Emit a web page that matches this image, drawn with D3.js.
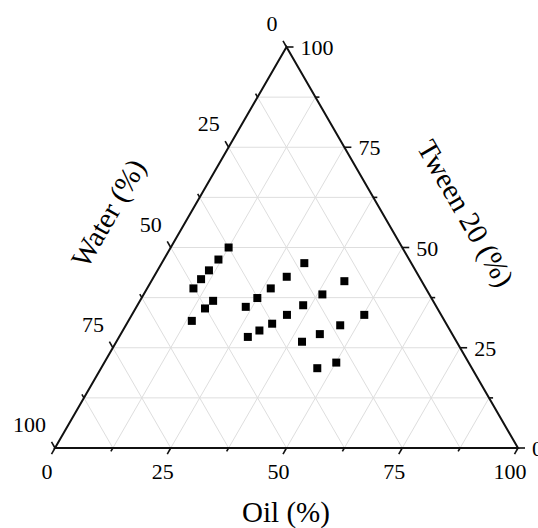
<!DOCTYPE html>
<html>
<head>
<meta charset="utf-8">
<script src="https://cdn.jsdelivr.net/npm/d3@7"></script>
<style>
  html, body { margin: 0; padding: 0; background: #fff; }
  svg { display: block; }
  text { font-family: "Liberation Serif", "Times New Roman", serif; fill: #000; }
</style>
</head>
<body>
<svg id="chart" width="538" height="528"></svg>
<script>
// ---- Data (percentages) ----
const tween = [50.0, 47.0, 44.3, 42.1, 39.8, 36.7, 34.8, 31.7,
               46.1, 42.7, 39.8, 37.4, 35.2,
               41.6, 38.3, 35.6, 33.2, 31.0, 29.3, 27.7,
               33.2, 30.6, 28.4, 26.5,
               21.3, 19.9];
const oil   = [12.5, 11.8, 11.1, 10.5, 10.0, 15.8, 15.0, 13.7,
               30.8, 28.7, 26.7, 25.0, 23.6,
               41.7, 38.6, 35.8, 33.5, 31.4, 29.5, 27.8,
               50.2, 46.3, 43.0, 40.1,
               50.1, 46.7];
const water = [37.5, 41.2, 44.6, 47.4, 50.2, 47.5, 50.2, 54.6,
               23.1, 28.6, 33.5, 37.6, 41.2,
               16.7, 23.1, 28.6, 33.3, 37.6, 41.2, 44.5,
               16.6, 23.1, 28.6, 33.4,
               28.6, 33.4];
const majorTicks = [0, 25, 50, 75, 100];
const minorTicks = [12.5, 37.5, 62.5, 87.5];
const gridValues = [12.5, 25, 37.5, 50, 62.5, 75, 87.5];
const axisTitles = { oil: "Oil (%)", water: "Water (%)", tween: "Tween 20 (%)" };

// ---- Scales / projection ----
const svg = d3.select("#chart");
const xS = d3.scaleLinear().domain([0, 100]).range([55, 518]);
const yS = d3.scaleLinear().domain([0, 100]).range([448, 47]);
// water vertex bottom-left, oil vertex bottom-right, tween vertex top
function proj(w, o, t) { return [xS(o + t / 2), yS(t)]; }

const cos60 = 0.5, sin60 = Math.sqrt(3) / 2;

// ---- Grid ----
const grid = svg.append("g").attr("stroke", "#dedede").attr("stroke-width", 1).attr("fill", "none");
gridValues.forEach(v => {
  let a = proj(100 - v, 0, v), b = proj(0, 100 - v, v);
  grid.append("line").attr("x1", a[0]).attr("y1", a[1]).attr("x2", b[0]).attr("y2", b[1]);
  a = proj(100 - v, v, 0); b = proj(0, v, 100 - v);
  grid.append("line").attr("x1", a[0]).attr("y1", a[1]).attr("x2", b[0]).attr("y2", b[1]);
  a = proj(v, 100 - v, 0); b = proj(v, 0, 100 - v);
  grid.append("line").attr("x1", a[0]).attr("y1", a[1]).attr("x2", b[0]).attr("y2", b[1]);
});

// ---- Triangle ----
const A = proj(100, 0, 0), B = proj(0, 100, 0), C = proj(0, 0, 100);
svg.append("path")
  .attr("d", d3.line()([A, B, C]) + "Z")
  .attr("fill", "none").attr("stroke", "#111").attr("stroke-width", 2)
  .attr("stroke-linejoin", "miter");

// ---- Ticks ----
const tickG = svg.append("g").attr("stroke", "#111").attr("stroke-width", 1.6);
function tick(p, dx, dy, len) {
  tickG.append("line").attr("x1", p[0]).attr("y1", p[1])
    .attr("x2", p[0] + dx * len).attr("y2", p[1] + dy * len);
}
majorTicks.forEach(v => tick(proj(100 - v, v, 0), -cos60, sin60, 7));
minorTicks.forEach(v => tick(proj(100 - v, v, 0), -cos60, sin60, 4));
majorTicks.forEach(v => tick(proj(v, 0, 100 - v), -cos60, -sin60, 7));
minorTicks.forEach(v => tick(proj(v, 0, 100 - v), -cos60, -sin60, 4));
majorTicks.forEach(v => tick(proj(0, 100 - v, v), 1, 0, 7));
minorTicks.forEach(v => tick(proj(0, 100 - v, v), 1, 0, 4));

// ---- Tick labels ----
const lab = svg.append("g").attr("font-size", 22);
majorTicks.forEach(v => {
  const p = proj(100 - v, v, 0);
  lab.append("text").attr("x", p[0] - 8).attr("y", p[1] + 31)
    .attr("text-anchor", "middle").text(v);
});
majorTicks.forEach(v => {
  const p = proj(v, 0, 100 - v);
  lab.append("text").attr("x", p[0] - 9).attr("y", p[1] - 16)
    .attr("text-anchor", "end").text(v);
});
majorTicks.forEach(v => {
  const p = proj(0, 100 - v, v);
  lab.append("text").attr("x", p[0] + 14).attr("y", p[1] + 8)
    .attr("text-anchor", "start").text(v);
});

// ---- Axis titles ----
svg.append("text").attr("x", 286).attr("y", 522).attr("font-size", 29)
  .attr("text-anchor", "middle").text(axisTitles.oil);
svg.append("text").attr("transform", "translate(108,213) rotate(-60)")
  .attr("font-size", 29).attr("text-anchor", "middle").attr("dy", "0.35em")
  .text(axisTitles.water);
svg.append("text").attr("transform", "translate(466,213) rotate(60)")
  .attr("font-size", 29).attr("text-anchor", "middle").attr("dy", "0.35em")
  .text(axisTitles.tween);

// ---- Points ----
const pts = tween.map((t, i) => proj(water[i], oil[i], t));
svg.append("g").selectAll("rect").data(pts).join("rect")
  .attr("x", d => d[0] - 4).attr("y", d => d[1] - 4)
  .attr("width", 8).attr("height", 8)
  .attr("fill", "#000");
</script>
</body>
</html>
